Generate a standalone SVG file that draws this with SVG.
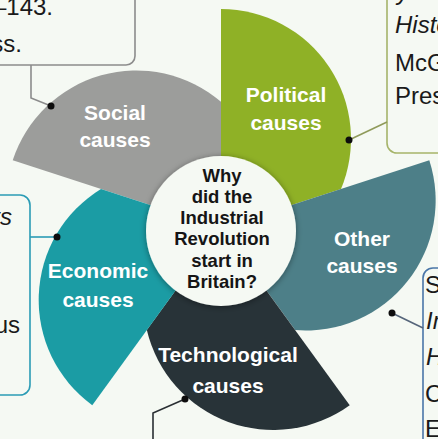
<svg xmlns="http://www.w3.org/2000/svg" width="438" height="439" viewBox="0 0 438 439">
<defs>
<style>
.lbl{font-family:"Liberation Sans",Arial,sans-serif;font-weight:bold;font-size:21px;fill:#ffffff;text-anchor:middle}
.ctr{font-family:"Liberation Sans",Arial,sans-serif;font-weight:bold;font-size:18.5px;fill:#151515;text-anchor:middle}
.side{font-family:"Liberation Sans",Arial,sans-serif;font-size:24px;fill:#1a1a1a}
.it{font-style:italic}
.box{fill:#f5f9f3;stroke-width:1.6}
.con{fill:none;stroke-width:1.6}
.dot{fill:#0d0d0d}
</style>
<path id="petal" d="M221,228 L221,9 A130,130 0 0 1 341,189 Z"/>
<filter id="sh" x="-20%" y="-20%" width="140%" height="140%">
<feDropShadow dx="0" dy="1" stdDeviation="3" flood-color="#000" flood-opacity="0.4"/>
</filter>
</defs>
<rect x="0" y="0" width="438" height="439" fill="#f5f9f3"/>
<g id="boxes">
<rect class="box" x="-20" y="-20" width="155" height="85" rx="9" stroke="#8c8c8c"/>
<text class="side" x="53" y="15" text-anchor="end">–143.</text>
<text class="side" x="22" y="52" text-anchor="end">ss.</text>
<rect class="box" x="387" y="-20" width="80" height="173" rx="10" stroke="#a6b46a"/>
<text class="side it" x="397" y="0">y</text>
<text class="side it" x="395" y="33">Histo</text>
<text class="side" x="395" y="71">McG</text>
<text class="side" x="395" y="104">Pres</text>
<rect class="box" x="-20" y="195" width="50" height="200" rx="10" stroke="#2b9cb5"/>
<text class="side it" x="12" y="225" text-anchor="end">ts</text>
<text class="side" x="20" y="333" text-anchor="end">us</text>
<rect class="box" x="423" y="268" width="40" height="200" rx="10" stroke="#4a76a8"/>
<text class="side" x="425" y="293">S</text>
<text class="side it" x="426" y="329">In</text>
<text class="side it" x="426" y="365">H</text>
<text class="side" x="425" y="402">C</text>
<text class="side" x="425" y="437">E</text>
</g>
<g id="social">
<use href="#petal" fill="#9c9d9b" transform="rotate(288 221 228)"/>
<text class="lbl" x="115" y="120">Social</text>
<text class="lbl" x="115" y="147">causes</text>
</g>
<g id="political">
<use href="#petal" fill="#8fb126"/>
<text class="lbl" x="286" y="102">Political</text>
<text class="lbl" x="286" y="130">causes</text>
</g>
<g id="other">
<use href="#petal" fill="#4d7f88" transform="rotate(72 221 228)"/>
<text class="lbl" x="362" y="246">Other</text>
<text class="lbl" x="362" y="273">causes</text>
</g>
<g id="technological">
<use href="#petal" fill="#283338" transform="rotate(144 221 228)"/>
<text class="lbl" x="228" y="362">Technological</text>
<text class="lbl" x="228" y="393">causes</text>
</g>
<g id="economic">
<use href="#petal" fill="#1b9ca4" transform="rotate(216 221 228)"/>
<text class="lbl" x="98" y="278">Economic</text>
<text class="lbl" x="98" y="307">causes</text>
</g>
<g id="center">
<circle cx="221" cy="231" r="75" fill="#f5f9f3" filter="url(#sh)"/>
<text class="ctr" x="222" y="182">Why</text>
<text class="ctr" x="222" y="203">did the</text>
<text class="ctr" x="222" y="224">Industrial</text>
<text class="ctr" x="222" y="245">Revolution</text>
<text class="ctr" x="222" y="267">start in</text>
<text class="ctr" x="222" y="288">Britain?</text>
</g>
<g id="connectors">
<polyline class="con" points="51,106 31,98 31,65" stroke="#8c8c8c"/>
<polyline class="con" points="349,140 387,122" stroke="#8f9a5a"/>
<polyline class="con" points="57,237 30,237" stroke="#2b9cb5"/>
<polyline class="con" points="392,313 423,328" stroke="#55657a"/>
<polyline class="con" points="185,399 153,413 153,439" stroke="#2a2f33"/>
<circle class="dot" cx="51" cy="106" r="3.5"/>
<circle class="dot" cx="349" cy="140" r="3.5"/>
<circle class="dot" cx="57" cy="237" r="3.5"/>
<circle class="dot" cx="392" cy="313" r="3.5"/>
<circle class="dot" cx="185" cy="399" r="3.5"/>
</g>
</svg>
